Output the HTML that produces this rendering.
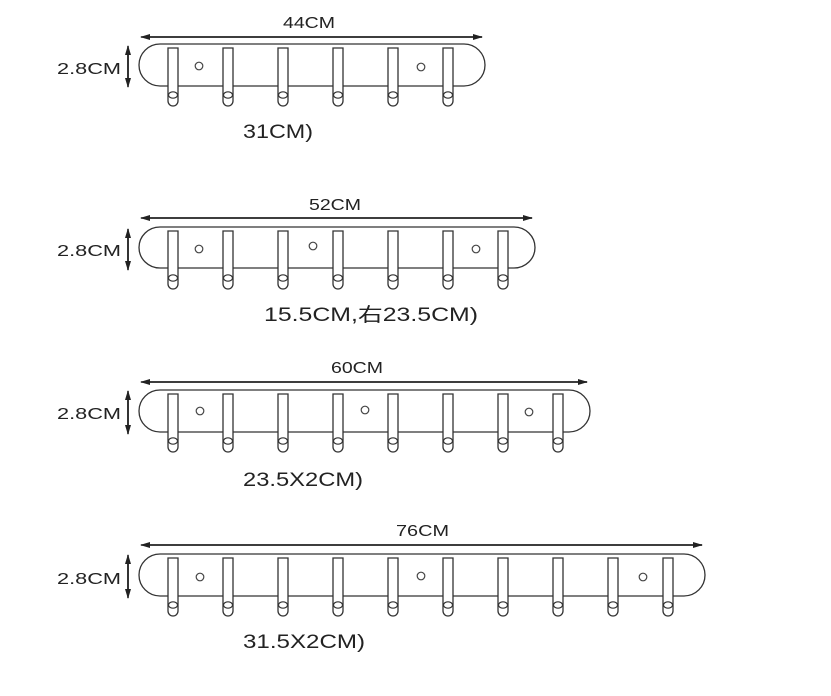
<!DOCTYPE html>
<html><head><meta charset="utf-8"><style>
html,body{margin:0;padding:0;background:#fff;}
svg{display:block}
text{font-family:"Liberation Sans","Noto Sans CJK SC",sans-serif;fill:#222}
</style></head><body>
<svg width="831" height="696" viewBox="0 0 831 696" xmlns="http://www.w3.org/2000/svg">
<defs>
<marker id="ah" markerWidth="10" markerHeight="8" refX="9" refY="4" orient="auto" markerUnits="userSpaceOnUse">
<path d="M0,1 L10,4 L0,7 Z" fill="#222"/></marker>
<g id="hk">
<path d="M-5,0 H5 V53 A5,5 0 0 1 -5,53 Z" fill="#fff" stroke="#333" stroke-width="1.3"/>
<ellipse cx="0" cy="47" rx="4.5" ry="3.2" fill="none" stroke="#333" stroke-width="1.2"/>
</g>
<circle id="hole" r="3.8" fill="none" stroke="#444" stroke-width="1.2"/>
</defs>
<g stroke="#222" stroke-width="1.6" fill="none">
<line x1="145" y1="37" x2="482" y2="37" marker-end="url(#ah)"/>
<line x1="482" y1="37" x2="141" y2="37" marker-end="url(#ah)"/>
<line x1="145" y1="218" x2="532" y2="218" marker-end="url(#ah)"/>
<line x1="532" y1="218" x2="141" y2="218" marker-end="url(#ah)"/>
<line x1="145" y1="382" x2="587" y2="382" marker-end="url(#ah)"/>
<line x1="587" y1="382" x2="141" y2="382" marker-end="url(#ah)"/>
<line x1="145" y1="545" x2="702" y2="545" marker-end="url(#ah)"/>
<line x1="702" y1="545" x2="141" y2="545" marker-end="url(#ah)"/>
<line x1="128" y1="52" x2="128" y2="87" marker-end="url(#ah)"/>
<line x1="128" y1="80" x2="128" y2="46" marker-end="url(#ah)"/>
<line x1="128" y1="235" x2="128" y2="270" marker-end="url(#ah)"/>
<line x1="128" y1="263" x2="128" y2="229" marker-end="url(#ah)"/>
<line x1="128" y1="398" x2="128" y2="434" marker-end="url(#ah)"/>
<line x1="128" y1="427" x2="128" y2="391" marker-end="url(#ah)"/>
<line x1="128" y1="562" x2="128" y2="598" marker-end="url(#ah)"/>
<line x1="128" y1="591" x2="128" y2="555" marker-end="url(#ah)"/>
</g>
<g fill="none" stroke="#333" stroke-width="1.3">
<rect x="139" y="44" width="346" height="42" rx="21" ry="21"/>
<rect x="139" y="227" width="396" height="41" rx="21" ry="21"/>
<rect x="139" y="390" width="451" height="42" rx="21" ry="21"/>
<rect x="139" y="554" width="566" height="42" rx="21" ry="21"/>
</g>
<use href="#hole" x="199" y="66"/><use href="#hole" x="421" y="67"/>
<use href="#hole" x="199" y="249"/><use href="#hole" x="313" y="246"/><use href="#hole" x="476" y="249"/>
<use href="#hole" x="200" y="411"/><use href="#hole" x="365" y="410"/><use href="#hole" x="529" y="412"/>
<use href="#hole" x="200" y="577"/><use href="#hole" x="421" y="576"/><use href="#hole" x="643" y="577"/>
<g>
<use href="#hk" x="173" y="48"/><use href="#hk" x="228" y="48"/><use href="#hk" x="283" y="48"/><use href="#hk" x="338" y="48"/><use href="#hk" x="393" y="48"/><use href="#hk" x="448" y="48"/>
<use href="#hk" x="173" y="231"/><use href="#hk" x="228" y="231"/><use href="#hk" x="283" y="231"/><use href="#hk" x="338" y="231"/><use href="#hk" x="393" y="231"/><use href="#hk" x="448" y="231"/><use href="#hk" x="503" y="231"/>
<use href="#hk" x="173" y="394"/><use href="#hk" x="228" y="394"/><use href="#hk" x="283" y="394"/><use href="#hk" x="338" y="394"/><use href="#hk" x="393" y="394"/><use href="#hk" x="448" y="394"/><use href="#hk" x="503" y="394"/><use href="#hk" x="558" y="394"/>
<use href="#hk" x="173" y="558"/><use href="#hk" x="228" y="558"/><use href="#hk" x="283" y="558"/><use href="#hk" x="338" y="558"/><use href="#hk" x="393" y="558"/><use href="#hk" x="448" y="558"/><use href="#hk" x="503" y="558"/><use href="#hk" x="558" y="558"/><use href="#hk" x="613" y="558"/><use href="#hk" x="668" y="558"/>
</g>
<g font-size="16">
<text x="283" y="28" textLength="52" lengthAdjust="spacingAndGlyphs">44CM</text>
<text x="309" y="210" textLength="52" lengthAdjust="spacingAndGlyphs">52CM</text>
<text x="331" y="373" textLength="52" lengthAdjust="spacingAndGlyphs">60CM</text>
<text x="396" y="536" textLength="53" lengthAdjust="spacingAndGlyphs">76CM</text>
<text x="57" y="74" textLength="64" lengthAdjust="spacingAndGlyphs">2.8CM</text>
<text x="57" y="256" textLength="64" lengthAdjust="spacingAndGlyphs">2.8CM</text>
<text x="57" y="419" textLength="64" lengthAdjust="spacingAndGlyphs">2.8CM</text>
<text x="57" y="584" textLength="64" lengthAdjust="spacingAndGlyphs">2.8CM</text>
</g>
<g font-size="19">
<text x="243" y="138" textLength="70" lengthAdjust="spacingAndGlyphs">31CM)</text>
<text x="264" y="321" textLength="214" lengthAdjust="spacingAndGlyphs">15.5CM,右23.5CM)</text>
<text x="243" y="486" textLength="120" lengthAdjust="spacingAndGlyphs">23.5X2CM)</text>
<text x="243" y="648" textLength="122" lengthAdjust="spacingAndGlyphs">31.5X2CM)</text>
</g>
</svg>
</body></html>
